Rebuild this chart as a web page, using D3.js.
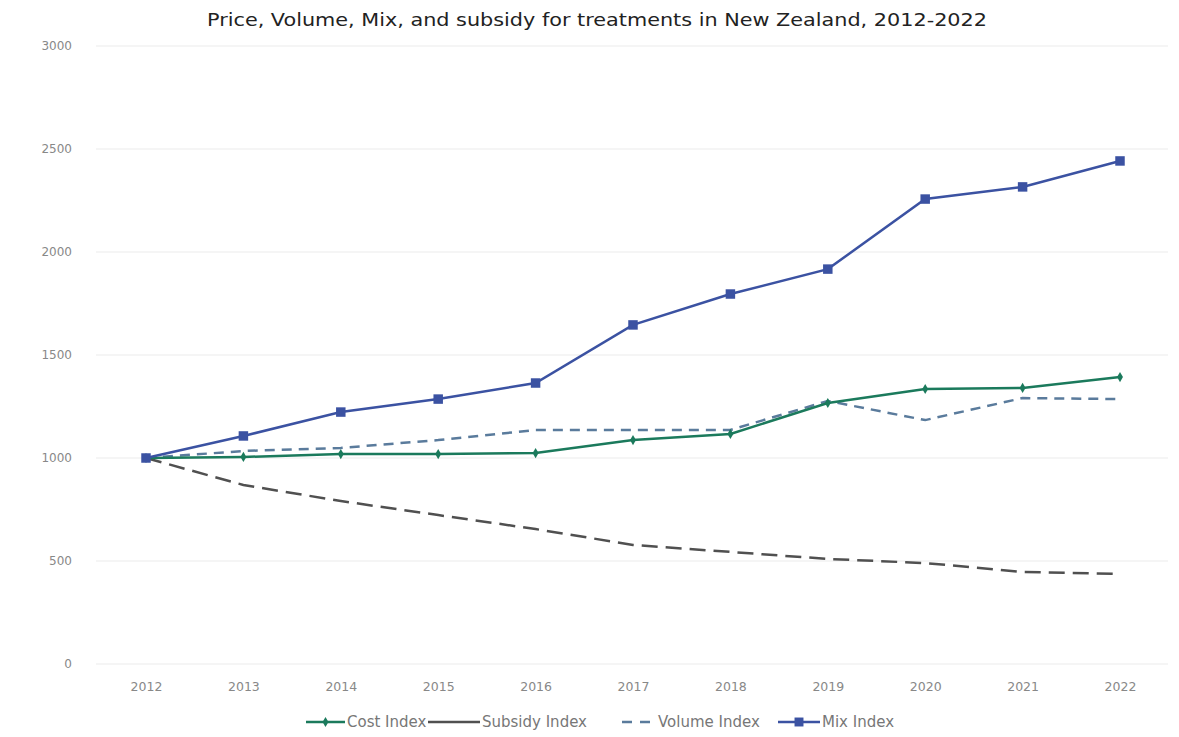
<!DOCTYPE html>
<html>
<head>
<meta charset="utf-8">
<script src="https://cdn.jsdelivr.net/npm/d3@7"></script>
<style>
  body { margin: 0; background: #fff; font-family: "DejaVu Sans", sans-serif; }
</style>
</head>
<body>
<script>
const years = [2012, 2013, 2014, 2015, 2016, 2017, 2018, 2019, 2020, 2021, 2022];
const costIndex = [1000, 1005, 1019, 1019, 1024, 1087, 1117, 1267, 1335, 1340, 1393];
const subsidyIndex = [1000, 869, 791, 723, 655, 578, 544, 510, 490, 447, 437];
const volumeIndex = [1000, 1034, 1049, 1087, 1136, 1136, 1136, 1277, 1184, 1291, 1286];
const mixIndex = [1000, 1107, 1223, 1286, 1364, 1646, 1796, 1917, 2257, 2316, 2442];
const yTicks = [0, 500, 1000, 1500, 2000, 2500, 3000];

const width = 1179, height = 737;
const font = "'DejaVu Sans', sans-serif";

const svg = d3.select("body").append("svg")
  .attr("width", width)
  .attr("height", height);

// Title
svg.append("text")
  .attr("x", 597)
  .attr("y", 26)
  .attr("text-anchor", "middle")
  .attr("textLength", 780)
  .attr("lengthAdjust", "spacingAndGlyphs")
  .style("font-size", "17px")
  .style("font-family", font)
  .style("fill", "#222")
  .text("Price, Volume, Mix, and subsidy for treatments in New Zealand, 2012-2022");

// Scales
const xScale = d3.scalePoint()
  .domain(years)
  .range([146, 1120]);

const yScale = d3.scaleLinear()
  .domain([0, 3000])
  .range([664, 46]);

// Gridlines
svg.append("g")
  .selectAll("line")
  .data(yTicks)
  .enter()
  .append("line")
  .attr("x1", 96)
  .attr("x2", 1168)
  .attr("y1", (d) => yScale(d))
  .attr("y2", (d) => yScale(d))
  .attr("stroke", "#ececec")
  .attr("stroke-width", 1.2);

// Y axis
const yAxis = d3.axisLeft(yScale).tickValues(yTicks).tickFormat(d3.format("d")).tickSize(0).tickPadding(0);
svg.append("g")
  .attr("transform", "translate(72,0)")
  .call(yAxis)
  .call((g) => g.select(".domain").remove())
  .call((g) => g.selectAll("text").style("font-size", "12px").style("fill", "#888").style("font-family", font));

// X axis
const xAxis = d3.axisBottom(xScale).tickSize(0).tickPadding(0);
svg.append("g")
  .attr("transform", "translate(0,682)")
  .call(xAxis)
  .call((g) => g.select(".domain").remove())
  .call((g) => g.selectAll("text").style("font-size", "12.5px").style("fill", "#888").style("font-family", font));

const series = [
  { name: "Cost Index", values: costIndex, color: "#1b7a5c", dash: null, marker: "diamond" },
  { name: "Subsidy Index", values: subsidyIndex, color: "#505050", dash: "16,8", marker: null },
  { name: "Volume Index", values: volumeIndex, color: "#5a7b9c", dash: "10,7", marker: null },
  { name: "Mix Index", values: mixIndex, color: "#3b52a2", dash: null, marker: "square" }
];

const line = d3.line()
  .x((d, i) => xScale(years[i]))
  .y((d) => yScale(d));

// Draw in order so Mix and Cost sit on top
const drawOrder = [1, 2, 0, 3];
drawOrder.forEach((k) => {
  const s = series[k];
  svg.append("path")
    .datum(s.values)
    .attr("fill", "none")
    .attr("stroke", s.color)
    .attr("stroke-width", 2.5)
    .attr("stroke-dasharray", s.dash)
    .attr("d", line);

  if (s.marker) {
    const sym = s.marker === "square" ? d3.symbolSquare : d3.symbolDiamond;
    const size = s.marker === "square" ? 90 : 30;
    svg.append("g")
      .selectAll("path")
      .data(s.values)
      .enter()
      .append("path")
      .attr("transform", (d, i) => `translate(${xScale(years[i])},${yScale(d)})`)
      .attr("d", d3.symbol().type(sym).size(size))
      .attr("fill", s.color);
  }
});

// Legend
const legendItems = [
  { s: series[0], x: 306, len: 39 },
  { s: series[1], x: 428, len: 52 },
  { s: series[2], x: 622, len: 34 },
  { s: series[3], x: 778, len: 42 }
];
const legend = svg.append("g").attr("transform", "translate(0,722)");
legendItems.forEach((item) => {
  const s = item.s;
  legend.append("line")
    .attr("x1", item.x)
    .attr("x2", item.x + item.len)
    .attr("y1", 0)
    .attr("y2", 0)
    .attr("stroke", s.color)
    .attr("stroke-width", 2.5)
    .attr("stroke-dasharray", s.name === "Volume Index" ? "10,8" : null);
  if (s.marker) {
    const sym = s.marker === "square" ? d3.symbolSquare : d3.symbolDiamond;
    legend.append("path")
      .attr("transform", `translate(${item.x + item.len / 2},0)`)
      .attr("d", d3.symbol().type(sym).size(s.marker === "square" ? 80 : 30))
      .attr("fill", s.color);
  }
  legend.append("text")
    .attr("x", item.x + item.len + 2)
    .attr("y", 5)
    .style("font-size", "15px")
    .style("font-family", font)
    .style("fill", "#777")
    .text(s.name);
});
</script>
</body>
</html>
